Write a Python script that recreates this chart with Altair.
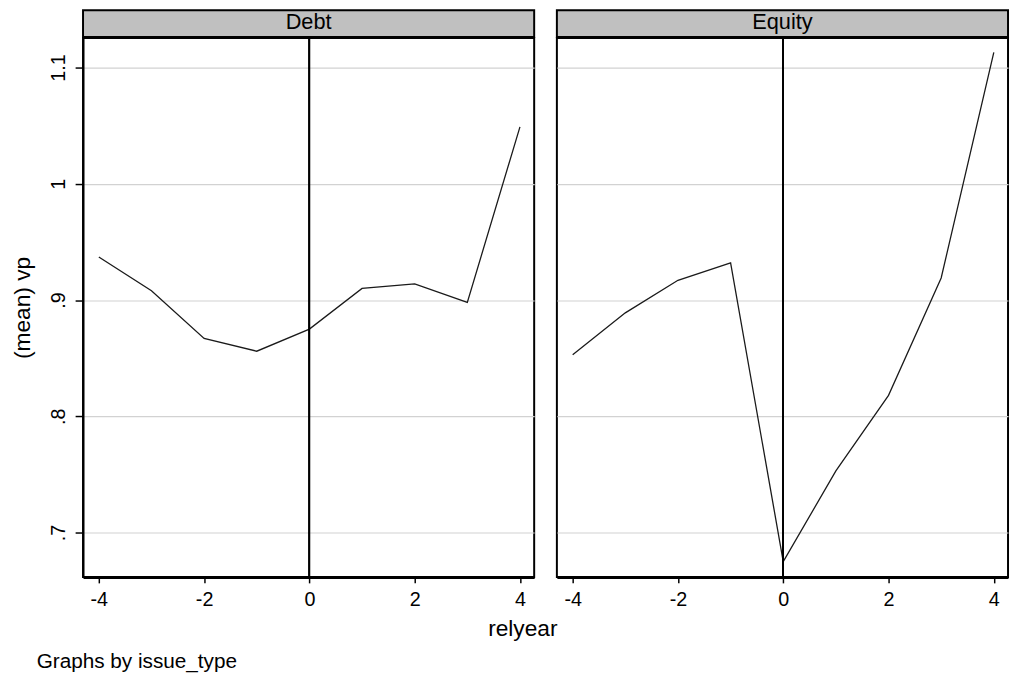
import altair as alt
import pandas as pd

relyear = [-4, -3, -2, -1, 0, 1, 2, 3, 4]
debt_vp = [0.937, 0.908, 0.867, 0.856, 0.875, 0.910, 0.914, 0.898, 1.049]
equity_vp = [0.853, 0.889, 0.917, 0.932, 0.675, 0.753, 0.818, 0.919, 1.113]
panels = ["Debt", "Equity"]
y_ticks = [0.7, 0.8, 0.9, 1.0, 1.1]
x_ticks = [-4, -2, 0, 2, 4]

FONT = "Liberation Sans"
W, H = 457, 546
XDOM = [-4.3, 4.27]
YDOM = [0.6618, 1.1255]

y_label_expr = ("datum.value < 1 ? replace(format(datum.value, '.1f'), '0.', '.') "
                ": format(datum.value, '.2~f')")
x_label_expr = "'' + round(datum.value)"


def x_axis(first):
    common = dict(values=x_ticks, grid=False, domainColor="black", domainWidth=3,
                  tickColor="black", tickWidth=1.5, tickSize=6, labelFontSize=20,
                  labelFont=FONT, labelColor="black", labelPadding=7,
                  labelExpr=x_label_expr)
    if first:
        return alt.Axis(title="relyear", titleFont=FONT, titleFontSize=23,
                        titleFontWeight="normal", titleColor="black", titleX=445,
                        titlePadding=8, **common)
    return alt.Axis(title=None, **common)


def y_axis(first):
    if first:
        return alt.Axis(values=y_ticks, grid=True, gridColor="#d2d2d2", gridWidth=1.2,
                        domainColor="black", domainWidth=2, tickColor="black",
                        tickWidth=1.5, tickSize=8, labelAngle=270, labelAlign="center",
                        labelBaseline="bottom", labelFontSize=20, labelFont=FONT,
                        labelColor="black", labelPadding=7, labelExpr=y_label_expr,
                        title="(mean) vp", titleFont=FONT, titleFontSize=23,
                        titleFontWeight="normal", titleColor="black", titlePadding=14)
    return alt.Axis(values=y_ticks, grid=True, gridColor="#d2d2d2", gridWidth=1.2,
                    labels=False, ticks=False, domain=False, title=None)


def panel(name, values, first):
    df = pd.DataFrame({"relyear": relyear, "vp": values})
    base = alt.Chart(df)
    line = base.mark_line(color="#1a1a1a", strokeWidth=1.3).encode(
        x=alt.X("relyear:Q", scale=alt.Scale(domain=XDOM, nice=False, zero=False),
                axis=x_axis(first)),
        y=alt.Y("vp:Q", scale=alt.Scale(domain=YDOM, nice=False, zero=False),
                axis=y_axis(first)),
    )
    zero = base.mark_rule(color="black", strokeWidth=1.3).encode(x=alt.datum(0))
    hdr_df = pd.DataFrame({"label": [name]})
    hdr = alt.Chart(hdr_df).mark_rect(fill="#c0c0c0", stroke="black", strokeWidth=2).encode(
        x=alt.value(0), x2=alt.value(W), y=alt.value(-28), y2=alt.value(-1)
    )
    hdr_text = alt.Chart(hdr_df).mark_text(font=FONT, fontSize=22, color="black",
                                           baseline="middle", align="center").encode(
        x=alt.value(W / 2), y=alt.value(-16), text="label:N"
    )
    return alt.layer(line, zero, hdr, hdr_text).properties(
        width=W, height=H,
        view=alt.ViewBackground(stroke="black", strokeWidth=2),
    )


left = panel(panels[0], debt_vp, True)
right = panel(panels[1], equity_vp, False)

chart = alt.hconcat(left, right, spacing=23, bounds="flush").properties(
    padding={"left": 2, "top": -4, "right": 0, "bottom": 0},
    title=alt.TitleParams("Graphs by issue_type", orient="bottom", anchor="start",
                          font=FONT, fontSize=21, fontWeight="normal", color="black",
                          dx=26, offset=10),
).configure_view(stroke="transparent").configure(background="white")

chart.save("out.html", embed_options={"renderer": "svg", "actions": False})
